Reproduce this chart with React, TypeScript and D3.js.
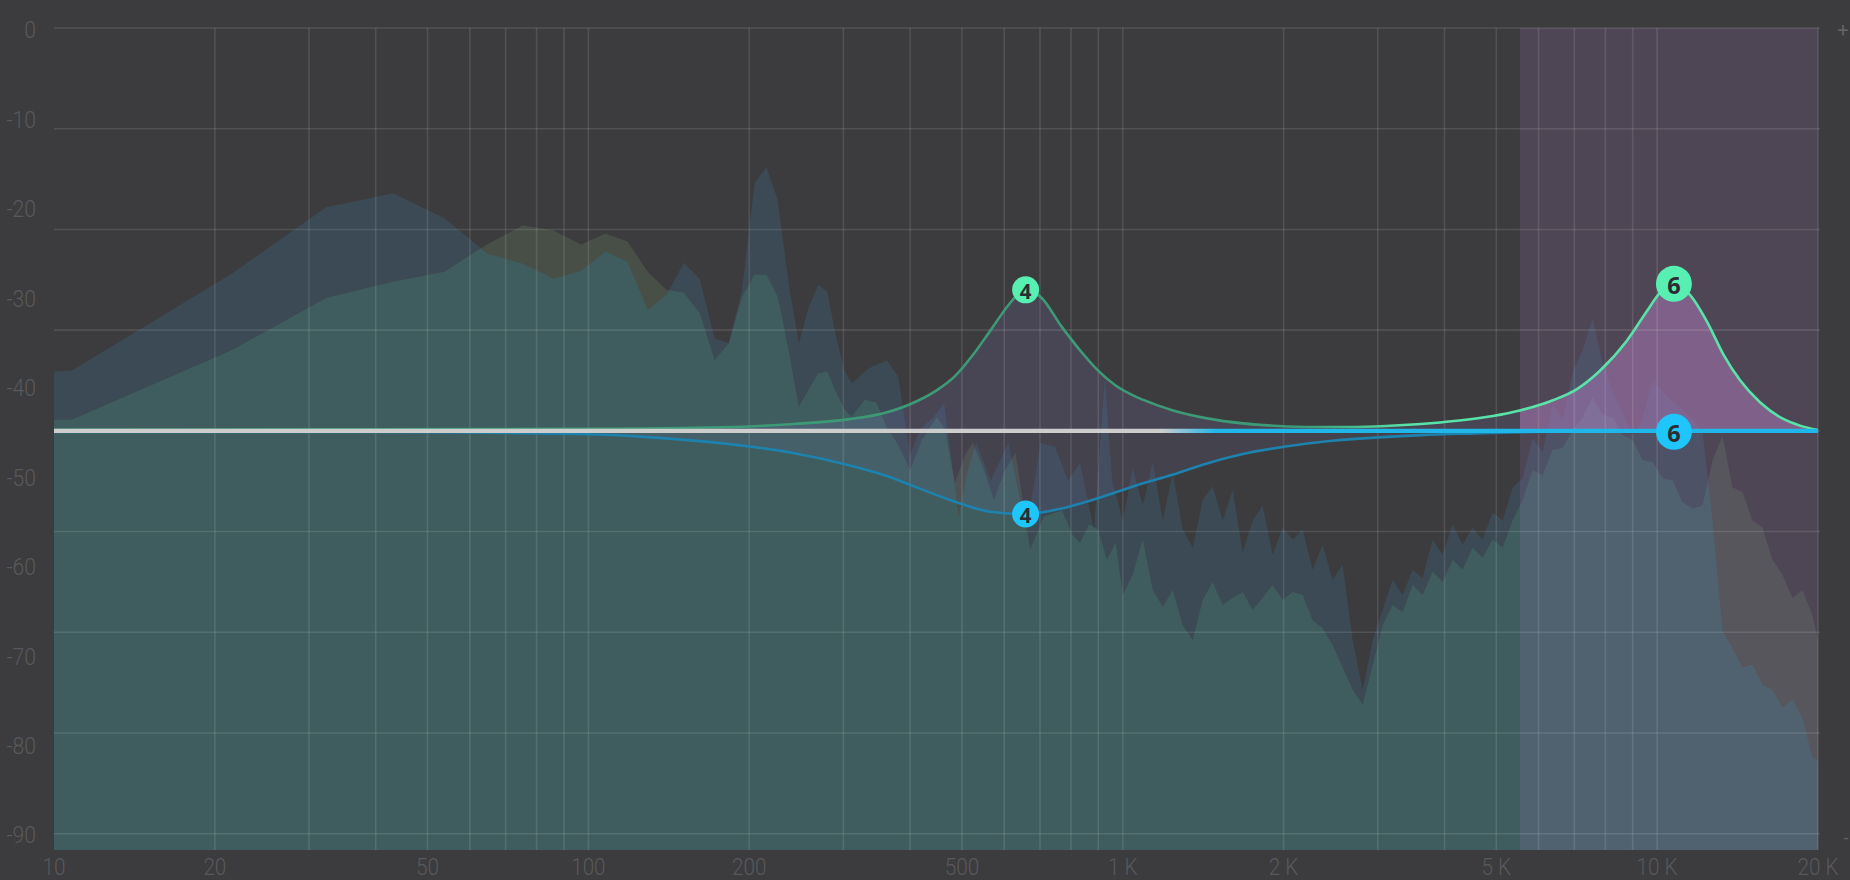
import React from "react";
import * as d3 from "d3";

const W = 1850;
const H = 880;

// ---- axes ----
const xTickFreqs = [10, 20, 50, 100, 200, 500, 1000, 2000, 5000, 10000, 20000];
const xTickText = ["10", "20", "50", "100", "200", "500", "1 K", "2 K", "5 K", "10 K", "20 K"];
const gridFreqs = [
  20, 30, 40, 50, 60, 70, 80, 90, 100, 200, 300, 400, 500, 600, 700, 800, 900,
  1000, 2000, 3000, 4000, 5000, 6000, 7000, 8000, 9000, 10000, 20000,
];
const gridDb = [0, -10, -20, -30, -40, -50, -60, -70, -80];
const yLabelValues = [0, -10, -20, -30, -40, -50, -60, -70, -80, -90];

// ---- spectrum A (blue-grey) ----
const specAFreq = [
  10, 10.8, 21.5, 32.3, 43.1, 53.8, 64.6, 75.4, 86.1, 96.9, 107.7, 118.4, 129.2, 140, 150.8, 161.5,
  172.3, 183.1, 193.9, 204.6, 215.4, 226.2, 236.9, 247.7, 258.5, 269.2, 280, 290.8, 301.6, 311, 334,
  362, 380, 400, 417, 443, 463, 493, 513, 532, 566, 611, 637, 660, 702, 747, 790, 832, 883, 926, 955,
  992,
  1000, 1044, 1090, 1138, 1188, 1240, 1295, 1352, 1411, 1473, 1538, 1606, 1677, 1750, 1827, 1908, 1992,
  2079, 2171, 2266, 2366, 2470, 2579, 2693, 2811, 2935, 3064, 3199, 3340, 3487, 3640, 3801, 3968, 4142,
  4325, 4515, 4714, 4922, 5138, 5365, 5601, 5847, 6105, 6373, 6654, 6947, 7253, 7572, 7905, 8253, 8617,
  8996, 9392, 9805, 10237, 10687, 11158, 11649, 12161, 12697, 13255, 13839, 14447, 15083, 15747, 16440,
  17164, 17919, 18708, 19531, 20000,
];
const specADb = [
  -34.1, -34.0, -24.4, -17.8, -16.4, -18.9, -22.4, -23.4, -24.9, -24.1, -22.2, -23.2, -28.0, -26.5,
  -23.3, -24.9, -30.8, -31.3, -26.0, -15.4, -13.8, -17.1, -25.3, -31.3, -27.7, -25.5, -26.2, -30.7,
  -34.0, -35.3, -33.8, -33.0, -34.6, -42.4, -39.9, -38.6, -37.2, -48.5, -43.9, -41.2, -44.9, -41.2,
  -45.9, -50.1, -41.2, -41.6, -44.9, -43.2, -49.8, -34.8, -44.9, -48.2,
  -48.9, -43.7, -47.4, -43.1, -48.9, -44.1, -49.8, -51.6, -46.9, -45.5, -48.9, -45.9, -52.0, -48.9,
  -47.4, -52.3, -49.6, -50.8, -49.8, -53.8, -51.3, -54.8, -53.3, -60.8, -65.7, -60.8, -57.8, -54.8,
  -56.3, -53.8, -54.6, -50.8, -52.3, -49.3, -51.3, -49.6, -50.8, -48.1, -48.9, -45.6, -44.7, -40.7,
  -42.1, -37.4, -38.9, -34.2, -32.0, -28.8, -33.2, -36.1, -38.1, -40.5, -38.7, -35.0, -36.1, -37.1,
  -37.9, -38.9, -40.1, -48.9, -59.8, -61.6, -63.5, -63.2, -65.2, -65.7, -67.5, -66.7, -68.5, -72.4,
  -72.8,
];

// ---- spectrum B (teal / olive) ----
const specBFreq = [
  10, 10.8, 21.5, 32.3, 43.1, 53.8, 64.6, 75.4, 86.1, 96.9, 107.7, 118.4, 129.2, 140, 150.8, 161.5,
  172.3, 183.1, 193.9, 204.6, 215.4, 226.2, 236.9, 247.7, 258.5, 269.2, 280, 290.8, 301.6, 311, 329,
  346, 362, 380, 400, 421, 449, 465, 485, 507, 524, 550, 574, 602, 630, 671, 712, 770, 804, 832, 865,
  898, 934, 970,
  1000, 1044, 1090, 1138, 1188, 1240, 1295, 1352, 1411, 1473, 1538, 1606, 1677, 1750, 1827, 1908, 1992,
  2079, 2171, 2266, 2366, 2470, 2579, 2693, 2811, 2935, 3064, 3199, 3340, 3487, 3640, 3801, 3968, 4142,
  4325, 4515, 4714, 4922, 5138, 5365, 5601, 5847, 6105, 6373, 6654, 6947, 7253, 7572, 7905, 8253, 8617,
  8996, 9392, 9805, 10237, 10687, 11158, 11649, 12161, 12697, 13255, 13839, 14447, 15083, 15747, 16440,
  17164, 17919, 18708, 19531, 20000,
];
const specBDb = [
  -38.9, -38.9, -32.0, -26.8, -25.2, -24.2, -21.5, -19.6, -20.1, -21.5, -20.4, -21.2, -24.2, -26.0,
  -26.3, -28.3, -33.0, -31.3, -26.7, -24.5, -24.5, -26.7, -32.0, -37.6, -35.9, -34.3, -34.1, -36.2,
  -37.9, -38.6, -36.9, -37.2, -39.7, -41.4, -43.9, -40.9, -38.6, -39.9, -45.2, -42.4, -41.2, -43.9,
  -46.9, -43.9, -42.2, -51.8, -48.5, -47.9, -50.3, -51.1, -49.3, -49.8, -52.8, -51.1,
  -56.3, -54.3, -50.8, -55.8, -57.5, -55.8, -59.3, -60.8, -56.8, -55.0, -57.3, -56.6, -56.0, -57.8,
  -56.6, -55.3, -56.8, -56.0, -56.3, -58.8, -59.6, -61.3, -63.5, -65.7, -67.2, -63.3, -59.3, -57.3,
  -58.0, -55.3, -56.3, -54.0, -55.0, -52.8, -53.8, -51.6, -52.6, -50.8, -51.6, -48.9, -46.9, -43.9,
  -44.4, -41.9, -41.7, -39.9, -38.7, -36.7, -38.4, -38.7, -40.4, -40.9, -42.9, -43.1, -44.7, -44.9,
  -47.1, -47.7, -47.4, -42.9, -40.5, -45.6, -46.1, -48.9, -49.6, -52.8, -54.3, -56.6, -55.8, -58.3,
  -60.8,
];

// ---- EQ curves (gain relative to the flat line) ----
const eqGreenFreq = [
  10, 100, 178.5, 242.8, 306, 356.8, 416.2, 449.1, 485.3, 524.2, 565.9, 611.3, 639.4, 658, 702.1,
  769.6, 831.8, 898.3, 969.8, 1057, 1140, 1233, 1438, 1678, 1957, 2280, 2662, 3105, 3614, 4221, 4928,
  5536, 6400, 7079, 7816, 8770, 9559, 10120, 10750, 11519, 12380, 13300, 14284, 15575, 17219, 18503,
  20000,
];
const eqGreenGain = [
  0.1, 0.2, 0.35, 0.68, 1.14, 1.74, 3.06, 4.05, 5.44, 7.53, 10.0, 12.5, 13.65, 14.0, 13.3, 10.3, 8.0,
  6.0, 4.5, 3.4, 2.7, 2.07, 1.24, 0.74, 0.48, 0.38, 0.38, 0.48, 0.68, 1.0, 1.47, 2.02, 3.06, 4.15,
  5.97, 8.92, 11.85, 13.7, 14.6, 13.5, 10.9, 7.6, 5.04, 2.84, 1.18, 0.52, 0.08,
];
const eqBlueFreq = [
  10, 40, 96.6, 131.2, 178.5, 242.8, 306, 356.8, 416.2, 485.3, 565.9, 658, 769.6, 898.3, 1077, 1233,
  1438, 1678, 2003, 2464, 3010, 3621, 4560, 5318, 6580, 10000, 20000,
];
const eqBlueGain = [
  -0.1, -0.12, -0.32, -0.65, -1.24, -2.23, -3.4, -4.39, -5.71, -7.04, -8.04, -8.26, -7.7, -6.7, -5.3,
  -4.39, -3.23, -2.3, -1.58, -0.98, -0.65, -0.42, -0.25, -0.15, -0.07, -0.02, 0,
];

// ---- band nodes ----
const nodeBands = ["4", "6"];
const nodeFreq = [658, 10750];
const nodeGreenGain = [14.0, 14.6];
const nodeBlueGain = [-8.26, -0.1];
const nodeRadius = [13.5, 18];
const nodeFontSize = [20.5, 23.5];
const selectedBandRange = [5536, 20000];

const BG = "#3c3c3e";
const LABEL = "#59595c";

export default function App() {
  const x = d3.scaleLog().domain([10, 20000]).range([54, 1818]);
  const y = d3.scaleLinear().domain([0, -80]).range([28, 833.7]);
  const yLab = d3.scaleLinear().domain([0, -90]).range([30, 835]);
  const eq = d3.scaleLinear().domain([-40, 40]).range([y(-80), y(0)]);
  const bottom = 850;
  const left = x(10);
  const right = x(20000);

  const specA = d3.zip(specAFreq, specADb) as [number, number][];
  const specB = d3.zip(specBFreq, specBDb) as [number, number][];
  const green = d3.zip(eqGreenFreq, eqGreenGain) as [number, number][];
  const blue = d3.zip(eqBlueFreq, eqBlueGain) as [number, number][];

  const specArea = d3
    .area<[number, number]>()
    .x((d) => x(d[0]))
    .y0(bottom)
    .y1((d) => y(d[1]));

  const eqLine = d3
    .line<[number, number]>()
    .x((d) => x(d[0]))
    .y((d) => eq(d[1]))
    .curve(d3.curveMonotoneX);
  const eqArea = d3
    .area<[number, number]>()
    .x((d) => x(d[0]))
    .y0(eq(0))
    .y1((d) => eq(d[1]))
    .curve(d3.curveMonotoneX);

  const pathA = specArea(specA) || "";
  const pathB = specArea(specB) || "";

  const bandX0 = x(selectedBandRange[0]);
  const bandX1 = x(selectedBandRange[1]);

  const labelFont = "Roboto, 'Open Sans', sans-serif";

  return (
    <div style={{ position: "absolute", left: 0, top: 0, width: W, height: H, background: BG }}>
      <svg width={W} height={H} style={{ display: "block" }}>
        <defs>
          <clipPath id="clipA">
            <path d={pathA} />
          </clipPath>
          <clipPath id="clipBand">
            <rect x={bandX0} y={y(0)} width={bandX1 - bandX0} height={bottom - y(0)} />
          </clipPath>
          <linearGradient id="greenStroke" gradientUnits="userSpaceOnUse" x1={x(2200)} x2={x(3400)} y1={0} y2={0}>
            <stop offset="0" stopColor="#3d9a76" />
            <stop offset="1" stopColor="#58e3a9" />
          </linearGradient>
          <linearGradient id="flatStroke" gradientUnits="userSpaceOnUse" x1={x(1180)} x2={x(1500)} y1={0} y2={0}>
            <stop offset="0" stopColor="#cdcdcd" />
            <stop offset="1" stopColor="#1fb7e9" />
          </linearGradient>
        </defs>

        <rect x={0} y={0} width={W} height={H} fill={BG} />

        {/* spectra */}
        <path d={pathA} fill="#3b4a54" />
        <path d={pathB} fill="#474f47" />
        <path d={pathB} fill="#3f5d5e" clipPath="url(#clipA)" />

        {/* selected band region */}
        <rect
          x={bandX0}
          y={y(0)}
          width={bandX1 - bandX0}
          height={bottom - y(0)}
          fill="rgb(180,127,216)"
          fillOpacity={0.15}
        />

        {/* EQ fills */}
        <path d={eqArea(blue) || ""} fill="rgb(140,130,220)" fillOpacity={0.1} />
        <path d={eqArea(green) || ""} fill="rgb(140,130,220)" fillOpacity={0.15} />
        <path d={eqArea(green) || ""} fill="rgb(210,135,205)" fillOpacity={0.32} clipPath="url(#clipBand)" />

        {/* grid */}
        <g stroke="#ffffff" strokeOpacity={0.11} strokeWidth={1.6}>
          {gridDb.map((v) => (
            <line key={"h" + v} x1={left} x2={right + 2} y1={y(v)} y2={y(v)} />
          ))}
          {gridFreqs.map((f) => (
            <line key={"v" + f} x1={x(f)} x2={x(f)} y1={y(0)} y2={bottom} />
          ))}
        </g>

        {/* EQ curves */}
        <path d={eqLine(blue) || ""} fill="none" stroke="#1d82ae" strokeWidth={2.6} />
        <path d={eqLine(green) || ""} fill="none" stroke="url(#greenStroke)" strokeWidth={2.6} />
        <line x1={left} x2={right} y1={eq(0)} y2={eq(0)} stroke="url(#flatStroke)" strokeWidth={4.2} />

        {/* nodes */}
        {nodeBands.map((b, i) => (
          <g key={"n" + b}>
            <circle cx={x(nodeFreq[i])} cy={eq(nodeGreenGain[i])} r={nodeRadius[i]} fill="#58efb2" />
            <text
              x={x(nodeFreq[i])}
              y={eq(nodeGreenGain[i]) + 1}
              textAnchor="middle"
              dominantBaseline="central"
              fontFamily="'Open Sans', sans-serif"
              fontWeight={700}
              fontSize={nodeFontSize[i]}
              fill="#2c2c32"
            >
              {b}
            </text>
            <circle cx={x(nodeFreq[i])} cy={eq(nodeBlueGain[i])} r={nodeRadius[i]} fill="#1ec6fb" />
            <text
              x={x(nodeFreq[i])}
              y={eq(nodeBlueGain[i]) + 1}
              textAnchor="middle"
              dominantBaseline="central"
              fontFamily="'Open Sans', sans-serif"
              fontWeight={700}
              fontSize={nodeFontSize[i]}
              fill="#2c2c32"
            >
              {b}
            </text>
          </g>
        ))}

        {/* y labels */}
        {yLabelValues.map((v) => (
          <text
            key={"yl" + v}
            transform={`translate(36,${yLab(v)}) scale(0.9,1)`}
            textAnchor="end"
            dominantBaseline="central"
            fontFamily={labelFont}
            fontWeight={300}
            fontSize={23.5}
            fill={LABEL}
          >
            {String(v)}
          </text>
        ))}

        {/* x labels */}
        {xTickFreqs.map((f, i) => (
          <text
            key={"xl" + f}
            transform={`translate(${x(f)},875) scale(0.9,1)`}
            textAnchor="middle"
            fontFamily={labelFont}
            fontWeight={300}
            fontSize={23}
            fill={LABEL}
          >
            {xTickText[i]}
          </text>
        ))}

        <text x={1843} y={30} textAnchor="middle" dominantBaseline="central" fontFamily={labelFont} fontSize={20} fill="#626265">
          +
        </text>
        <text x={1846} y={837} textAnchor="middle" dominantBaseline="central" fontFamily={labelFont} fontSize={18} fill="#626265">
          -
        </text>
      </svg>
    </div>
  );
}
